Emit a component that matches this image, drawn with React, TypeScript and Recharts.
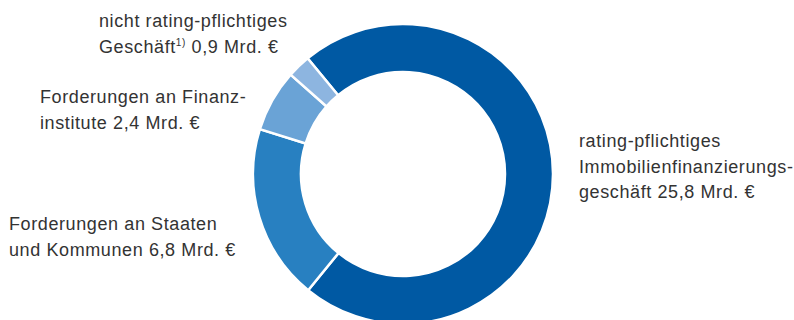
import * as React from 'react';
import { PieChart, Pie, Cell } from 'recharts';

// Volumen in Mrd. €
const segments = [
  'rating-pflichtiges Immobilienfinanzierungsgeschäft',
  'Forderungen an Staaten und Kommunen',
  'Forderungen an Finanzinstitute',
  'nicht rating-pflichtiges Geschäft',
];
const volumes = [25.8, 6.8, 2.4, 0.9];
const colors = ['#0059a3', '#2880c1', '#6aa3d6', '#8db5e0'];

// label lines per segment (value text is appended in the last line)
const labelLines = [
  ['rating-pflichtiges', 'Immobilienfinanzierungs-', 'geschäft'],
  ['Forderungen an Staaten', 'und Kommunen'],
  ['Forderungen an Finanz-', 'institute'],
  ['nicht rating-pflichtiges', 'Geschäft'],
];

const data = segments.map((name, i) => ({ name, value: volumes[i] }));

// where each label block sits (x, first baseline)
const labelPos = [
  { x: 579, y: 147 },
  { x: 9, y: 230 },
  { x: 40, y: 103 },
  { x: 99, y: 27 },
];
const lineGap = 25.7;

const fmt = (v: number) => v.toFixed(1).replace('.', ',') + ' Mrd. €';

const textStyle = {
  fontFamily: '"Liberation Sans", Arial, sans-serif',
  fontSize: 18,
  fill: '#333333',
  letterSpacing: 0.6,
};

const renderLabel = (props: any) => {
  const i = props.index as number;
  const lines = labelLines[i];
  const pos = labelPos[i];
  return (
    <g key={'lbl' + i}>
      {lines.map((ln, k) => {
        const last = k === lines.length - 1;
        const sup = i === 3 && last;
        return (
          <text key={k} x={pos.x} y={pos.y + k * lineGap} style={textStyle}>
            {ln}
            {sup ? (
              <tspan fontSize={10} dy={-7}>1)</tspan>
            ) : null}
            {last ? (
              <tspan dy={sup ? 7 : 0}>{' ' + fmt(volumes[i])}</tspan>
            ) : null}
          </text>
        );
      })}
    </g>
  );
};

export default function App() {
  return (
    <div style={{ position: 'absolute', left: 0, top: 0 }}>
      <PieChart width={794} height={320} margin={{ top: 0, right: 0, bottom: 0, left: 0 }}>
        <Pie
          data={data}
          dataKey="value"
          cx={403}
          cy={174}
          innerRadius={102}
          outerRadius={150}
          startAngle={129.5}
          endAngle={-230.5}
          stroke="#ffffff"
          strokeWidth={2.5}
          label={renderLabel}
          labelLine={false}
          isAnimationActive={false}
        >
          {data.map((d, i) => (
            <Cell key={d.name} fill={colors[i]} />
          ))}
        </Pie>
      </PieChart>
    </div>
  );
}
